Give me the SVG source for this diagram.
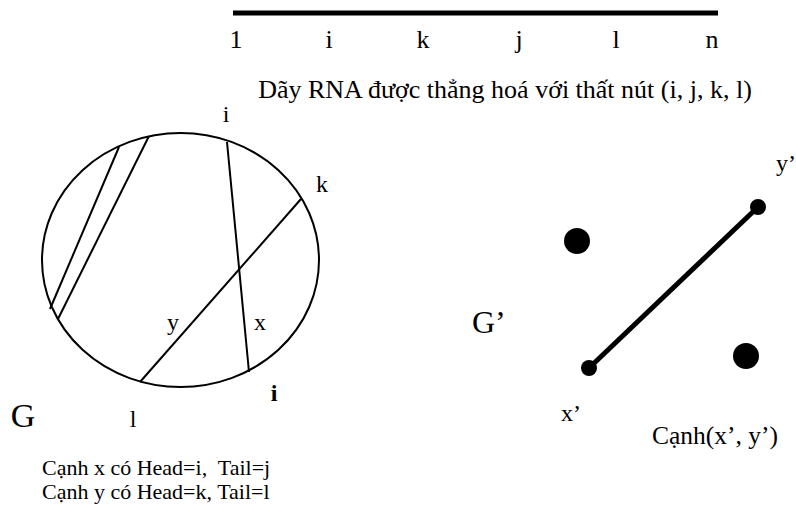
<svg xmlns="http://www.w3.org/2000/svg" width="796" height="523" viewBox="0 0 796 523">
<style>
text{font-family:"Liberation Serif","Times New Roman",serif;fill:#000}
.t{font-size:26px}
.c{font-size:24px}
.n{font-size:22px}
.thin{stroke:#000;stroke-width:2;fill:none}
</style>
<rect width="796" height="523" fill="#fff"/>
<g id="rna-line">
<line x1="233" y1="13" x2="718" y2="13" stroke="#000" stroke-width="5"/>
<text class="t" x="236" y="48" text-anchor="middle">1</text>
<text class="t" x="329" y="48" text-anchor="middle">i</text>
<text class="t" x="423" y="48" text-anchor="middle">k</text>
<text class="t" x="519" y="48" text-anchor="middle">j</text>
<text class="t" x="616" y="48" text-anchor="middle">l</text>
<text class="t" x="712" y="48" text-anchor="middle">n</text>
<text class="t" x="505" y="98" text-anchor="middle">Dãy RNA được thẳng hoá với thất nút (i, j, k, l)</text>
</g>
<g id="G">
<ellipse class="thin" cx="180.5" cy="260" rx="138.5" ry="127"/>
<line class="thin" x1="119" y1="147" x2="50" y2="309"/>
<line class="thin" x1="149" y1="136" x2="58" y2="319"/>
<line class="thin" x1="227" y1="142" x2="249" y2="372"/>
<line class="thin" x1="301" y1="199" x2="140" y2="382"/>
<text class="c" x="226" y="122" text-anchor="middle">i</text>
<text class="c" x="322" y="192" text-anchor="middle">k</text>
<text class="c" x="173" y="330" text-anchor="middle">y</text>
<text class="c" x="260" y="330" text-anchor="middle">x</text>
<text class="c" x="274" y="401" text-anchor="middle" font-weight="bold">i</text>
<text class="c" x="133" y="427" text-anchor="middle">l</text>
<text x="23" y="427" text-anchor="middle" font-size="34">G</text>
</g>
<g id="Gprime">
<text x="472" y="333" font-size="32">G’</text>
<circle cx="577" cy="241" r="13" fill="#000"/>
<circle cx="746" cy="356" r="13" fill="#000"/>
<line x1="589" y1="368" x2="758" y2="207" stroke="#000" stroke-width="5"/>
<circle cx="589" cy="368" r="8" fill="#000"/>
<circle cx="758" cy="207" r="8" fill="#000"/>
<text class="c" x="776" y="171">y’</text>
<text class="c" x="571" y="421" text-anchor="middle">x’</text>
<text x="652" y="444" font-size="25.5">Cạnh(x’, y’)</text>
</g>
<g id="notes">
<text class="n" x="42" y="475" xml:space="preserve">Cạnh x có Head=i,  Tail=j</text>
<text class="n" x="42" y="499">Cạnh y có Head=k, Tail=l</text>
</g>
</svg>
